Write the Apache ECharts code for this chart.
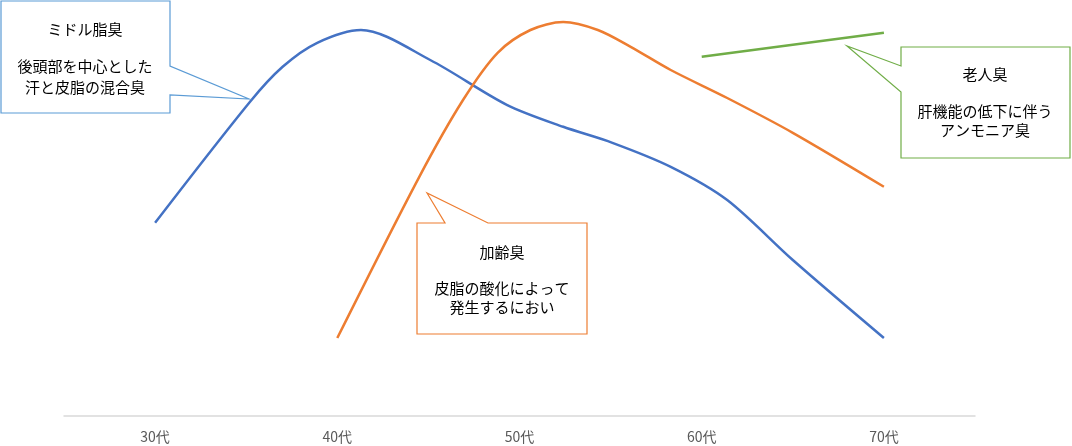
<!DOCTYPE html>
<html><head><meta charset="utf-8">
<script src="https://cdn.jsdelivr.net/npm/echarts@6/dist/echarts.min.js"></script>
<style>html,body{margin:0;padding:0;background:#fff}#c{width:1072px;height:446px}</style>
</head><body><div id="c"></div>
<script>
// category labels
const categories = ['30代','40代','50代','60代','70代'];
// series points: [age, relative level]
const middleAge = [[30,48.3],[35.2,78.5],[37,87.3],[38.9,93.3],[41.3,96.5],[45.1,89],[49.3,77.8],[52.4,72.3],[55.1,68.3],[58.3,62.3],[61.4,54],[65,39],[70,19.5]];
const agingOdor = [[40,19.5],[44.5,59.8],[46.9,79],[48.8,90.8],[50.6,96.5],[52.4,98.5],[54.3,96.5],[56.1,92.3],[58.3,86.5],[61.4,79.5],[65,70.8],[70,57.3]];
const elderOdor = [[60,89.8],[70,95.8]];
const seriesNames = ['ミドル脂臭','加齢臭','老人臭'];

const font = '"Noto Sans CJK JP","Noto Sans",sans-serif';
const chart = echarts.init(document.getElementById('c'));
function txt(t,x,y){return {type:'text',x:x,y:y,z:100,style:{text:t,fill:'#000',font:'15px '+font,textAlign:'center',textVerticalAlign:'middle'}};}
function poly(pts,color){return {type:'polygon',z:99,shape:{points:pts},style:{fill:'#fff',stroke:color,lineWidth:1.2}};}
chart.setOption({
  animation:false,
  grid:{left:64,right:97,top:0,bottom:30,containLabel:false},
  xAxis:[
    {type:'category',data:categories,boundaryGap:true,
     axisLine:{lineStyle:{color:'#d9d9d9',width:1.5}},axisTick:{show:false},
     axisLabel:{color:'#595959',fontSize:14,fontFamily:font,margin:14}},
    {type:'value',min:25,max:75,show:false}
  ],
  yAxis:{type:'value',min:0,max:104,show:false},
  series:[
    {name:seriesNames[0],type:'line',xAxisIndex:1,data:middleAge,smooth:0.3,showSymbol:false,lineStyle:{color:'#4472C4',width:2.5}},
    {name:seriesNames[1],type:'line',xAxisIndex:1,data:agingOdor,smooth:0.3,showSymbol:false,lineStyle:{color:'#ED7D31',width:2.5}},
    {name:seriesNames[2],type:'line',xAxisIndex:1,data:elderOdor,smooth:false,showSymbol:false,lineStyle:{color:'#70AD47',width:2.5}}
  ],
  graphic:[
    poly([[1,1],[170,1],[170,66],[249,99],[170,95],[170,113],[1,113]],'#5B9BD5'),
    txt('ミドル脂臭',85,29), txt('後頭部を中心とした',85,66), txt('汗と皮脂の混合臭',85,87),
    poly([[417,223],[445,223],[427,193],[488,223],[587,223],[587,334],[417,334]],'#ED7D31'),
    txt('加齢臭',502,252), txt('皮脂の酸化によって',502,288), txt('発生するにおい',502,307),
    poly([[901,47],[1070,47],[1070,158],[901,158],[901,92],[847,46],[901,66]],'#70AD47'),
    txt('老人臭',985,74), txt('肝機能の低下に伴う',985,111), txt('アンモニア臭',985,130)
  ]
});
</script></body></html>
